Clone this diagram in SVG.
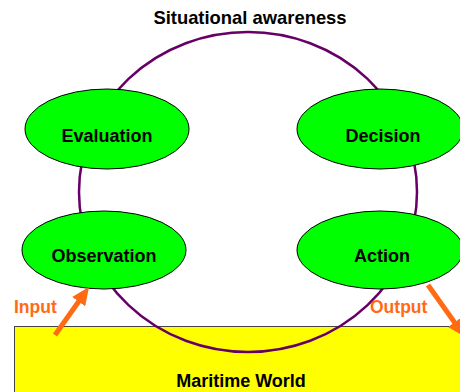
<svg xmlns="http://www.w3.org/2000/svg" width="460" height="392" viewBox="0 0 460 392">
  <style>
    text { font-family: "Liberation Sans", Arial, sans-serif; font-weight: bold; }
    .label { font-size: 18px; fill: #000; text-anchor: middle; }
    .io { font-size: 17.5px; fill: #ff6a13; }
    .stage { fill: #00ff00; stroke: #000; stroke-width: 1; }
    .loop { fill: none; stroke: #660066; stroke-width: 2.5; }
    .flow { stroke: #ff6a13; stroke-width: 5; fill: none; }
  </style>
  <defs>
    <marker id="flowHead" markerUnits="userSpaceOnUse" viewBox="0 0 18 16" markerWidth="18" markerHeight="16" refX="6" refY="8" orient="auto">
      <path d="M0,0 L18,8 L0,16 Z" fill="#ff6a13"/>
    </marker>
  </defs>

  <rect width="460" height="392" fill="#fff"/>

  <!-- environment -->
  <g id="maritime-world">
    <rect x="14.5" y="326.5" width="460" height="80" fill="#ffff00" stroke="#444" stroke-width="1"/>
    <text class="label" x="241" y="387">Maritime World</text>
  </g>

  <!-- awareness loop -->
  <g id="situational-awareness">
    <ellipse class="loop" cx="248" cy="192" rx="169" ry="160"/>
    <text class="label" x="250" y="24" style="font-size:18.4px">Situational awareness</text>
  </g>

  <g id="evaluation">
    <ellipse class="stage" cx="107" cy="129" rx="82" ry="40"/>
    <text class="label" x="107" y="141.5">Evaluation</text>
  </g>
  <g id="decision">
    <ellipse class="stage" cx="380" cy="129" rx="83" ry="40"/>
    <text class="label" x="383" y="141.5">Decision</text>
  </g>
  <g id="observation">
    <ellipse class="stage" cx="104" cy="250" rx="82" ry="39"/>
    <text class="label" x="104" y="262">Observation</text>
  </g>
  <g id="action">
    <ellipse class="stage" cx="380" cy="250" rx="83" ry="39"/>
    <text class="label" x="382" y="262">Action</text>
  </g>

  <!-- input / output flows -->
  <g id="connectors">
    <line class="flow" x1="55" y1="335" x2="82.1" y2="296.8" marker-end="url(#flowHead)"/>
    <line class="flow" x1="428" y1="285" x2="458" y2="327.2" marker-end="url(#flowHead)"/>
  </g>
  <text class="io" x="14" y="313">Input</text>
  <text class="io" x="370" y="313">Output</text>
</svg>
